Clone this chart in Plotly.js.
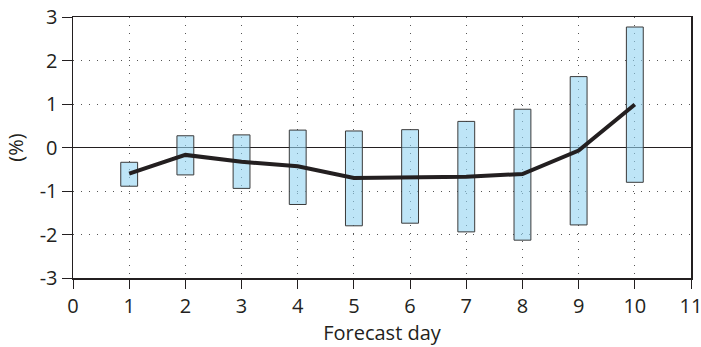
<!DOCTYPE html>
<html>
<head>
<meta charset="utf-8">
<script src="https://cdn.plot.ly/plotly-3.0.1.min.js"></script>
<style>html,body{margin:0;padding:0;background:#fff;overflow:hidden;}#chart{width:701px;height:347px;}</style>
</head>
<body>
<div id="chart"></div>
<script>
const days = [1, 2, 3, 4, 5, 6, 7, 8, 9, 10];
const rangeLow  = [-0.89, -0.63, -0.94, -1.31, -1.80, -1.74, -1.94, -2.13, -1.78, -0.80];
const rangeHigh = [-0.34,  0.27,  0.29,  0.40,  0.38,  0.41,  0.60,  0.88,  1.63,  2.77];
const meanValue = [-0.60, -0.17, -0.33, -0.43, -0.70, -0.68, -0.67, -0.61, -0.07,  0.99];
const xTickVals = [0, 1, 2, 3, 4, 5, 6, 7, 8, 9, 10, 11];
const xTickText = ['0', '1', '2', '3', '4', '5', '6', '7', '8', '9', '10', '11'];
const yTickVals = [-3, -2, -1, 0, 1, 2, 3];
const yTickText = ['-3', '-2', '-1', '0', '1', '2', '3'];

const bars = {
  type: 'bar',
  x: days,
  base: rangeLow,
  y: rangeHigh.map((h, i) => h - rangeLow[i]),
  width: 0.3,
  marker: {color: 'rgba(147,212,242,0.6)', line: {color: '#3a3a3a', width: 1}},
  hoverinfo: 'skip',
  showlegend: false
};
const line = {
  type: 'scatter',
  mode: 'lines',
  x: days,
  y: meanValue,
  line: {color: '#231f20', width: 4},
  showlegend: false
};

const family = '"Open Sans", Lato, sans-serif';
const tickFont = {family: family, size: 20, color: '#231f20'};
const titleFont = {family: family, size: 20, color: '#231f20'};
const layout = {
  width: 701, height: 347,
  margin: {l: 73, r: 10, t: 17, b: 69},
  paper_bgcolor: '#fff', plot_bgcolor: '#fff',
  font: tickFont,
  xaxis: {
    range: [0, 11], tickvals: xTickVals, ticktext: xTickText, tickfont: tickFont,
    ticklabeloverflow: 'allow',
    showline: true, linecolor: '#231f20', linewidth: 1.5, mirror: true,
    ticks: 'outside', ticklen: 9, tickcolor: '#231f20', tickwidth: 1,
    showgrid: true, gridcolor: '#555', gridwidth: 1, griddash: '1px,7px',
    zeroline: false,
    title: {text: 'Forecast day', font: titleFont, standoff: 2},
    fixedrange: true
  },
  yaxis: {
    range: [-3, 3], tickvals: yTickVals, ticktext: yTickText, tickfont: tickFont,
    ticklabeloverflow: 'allow',
    showline: true, linecolor: '#231f20', linewidth: 1.5, mirror: true,
    ticks: 'outside', ticklen: 10, tickcolor: '#231f20', tickwidth: 1,
    showgrid: true, gridcolor: '#555', gridwidth: 1, griddash: '1px,7px',
    zeroline: true, zerolinecolor: '#231f20', zerolinewidth: 1,
    title: {text: '(%)', font: titleFont, standoff: 10},
    fixedrange: true
  },
  bargap: 0
};

Plotly.newPlot('chart', [bars, line], layout, {displayModeBar: false, staticPlot: true});
</script>
</body>
</html>
